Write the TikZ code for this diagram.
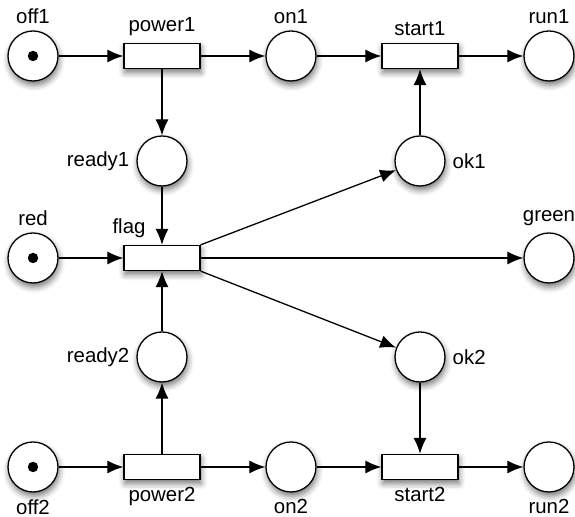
\documentclass[tikz,border=0pt]{standalone}
\usepackage{fontspec}
\setmainfont{Liberation Sans}
\usetikzlibrary{arrows.meta, shadows.blur}
\tikzstyle{place} = [circle, minimum size=25pt, inner sep=0pt, draw=black, line width=0.65pt, fill=white, blur shadow={shadow xshift=0.5pt, shadow yshift=-2pt, shadow blur radius=3pt, shadow opacity=55}]
\tikzstyle{transition} = [rectangle, minimum width=38pt, minimum height=12.5pt, inner sep=0pt, draw=black, line width=0.65pt, fill=white, blur shadow={shadow xshift=0.5pt, shadow yshift=-2pt, shadow blur radius=3pt, shadow opacity=55}]
\tikzstyle{marked} = [path picture={\fill[black] (path picture bounding box.center) circle (2.6pt);}]
\tikzstyle{arrow} = [line width=0.65pt, -{Latex[length=8pt, width=6.5pt]}]

\begin{document}
\begin{tikzpicture}[x=0.5pt, y=-0.5pt, node distance=64.5pt, font=\fontsize{10.2pt}{12pt}\selectfont]
\useasboundingbox (0,0) rectangle (575,517);
\node (off1) [place, marked, label=above:off1] at (33,56) {};
\node (power1) [transition, right of = off1, label=above:power1] {};
\node (on1) [place, right of = power1, label=above:on1] {};
\node (start1) [transition, right of = on1, label=above:start1] {};
\node (run1) [place, right of = start1, label=above:run1] {};
\node (ready1) [place, below of = power1, yshift = 12pt, label=left:ready1] {};
\node (ok1) [place, below of = start1, yshift = 12pt, label=right:ok1] {};
\node (red) [place, marked, below of = off1, node distance = 101pt, label=above:red] {};
\node (flag) [transition, right of = red, label={[xshift=-16.5pt]above:flag}] {};
\node (green) [place, right of = flag, node distance = 193.5pt, label=above:green] {};
\node (off2) [place, marked, below of = red, node distance = 104.5pt, label=below:off2] {};
\node (power2) [transition, right of = off2, label=below:power2] {};
\node (on2) [place, right of = power2, label=below:on2] {};
\node (start2) [transition, right of = on2, label=below:start2] {};
\node (run2) [place, right of = start2, label=below:run2] {};
\node (ready2) [place, above of = power2, yshift = -9.5pt, label=left:ready2] {};
\node (ok2) [place, above of = start2, yshift = -9.5pt, label=right:ok2] {};
\draw [arrow] (off1) -- (power1);
\draw [arrow] (power1) -- (on1);
\draw [arrow] (on1) -- (start1);
\draw [arrow] (start1) -- (run1);
\draw [arrow] (power1) -- (ready1);
\draw [arrow] (ready1) -- (flag);
\draw [arrow] (red) -- (flag);
\draw [arrow] (flag.north east) -- (ok1);
\draw [arrow] (flag) -- (green);
\draw [arrow] (flag.south east) -- (ok2);
\draw [arrow] (ok1) -- (start1);
\draw [arrow] (ok2) -- (start2);
\draw [arrow] (off2) -- (power2);
\draw [arrow] (power2) -- (on2);
\draw [arrow] (on2) -- (start2);
\draw [arrow] (start2) -- (run2);
\draw [arrow] (power2) -- (ready2);
\draw [arrow] (ready2) -- (flag);
\end{tikzpicture}
\end{document}
